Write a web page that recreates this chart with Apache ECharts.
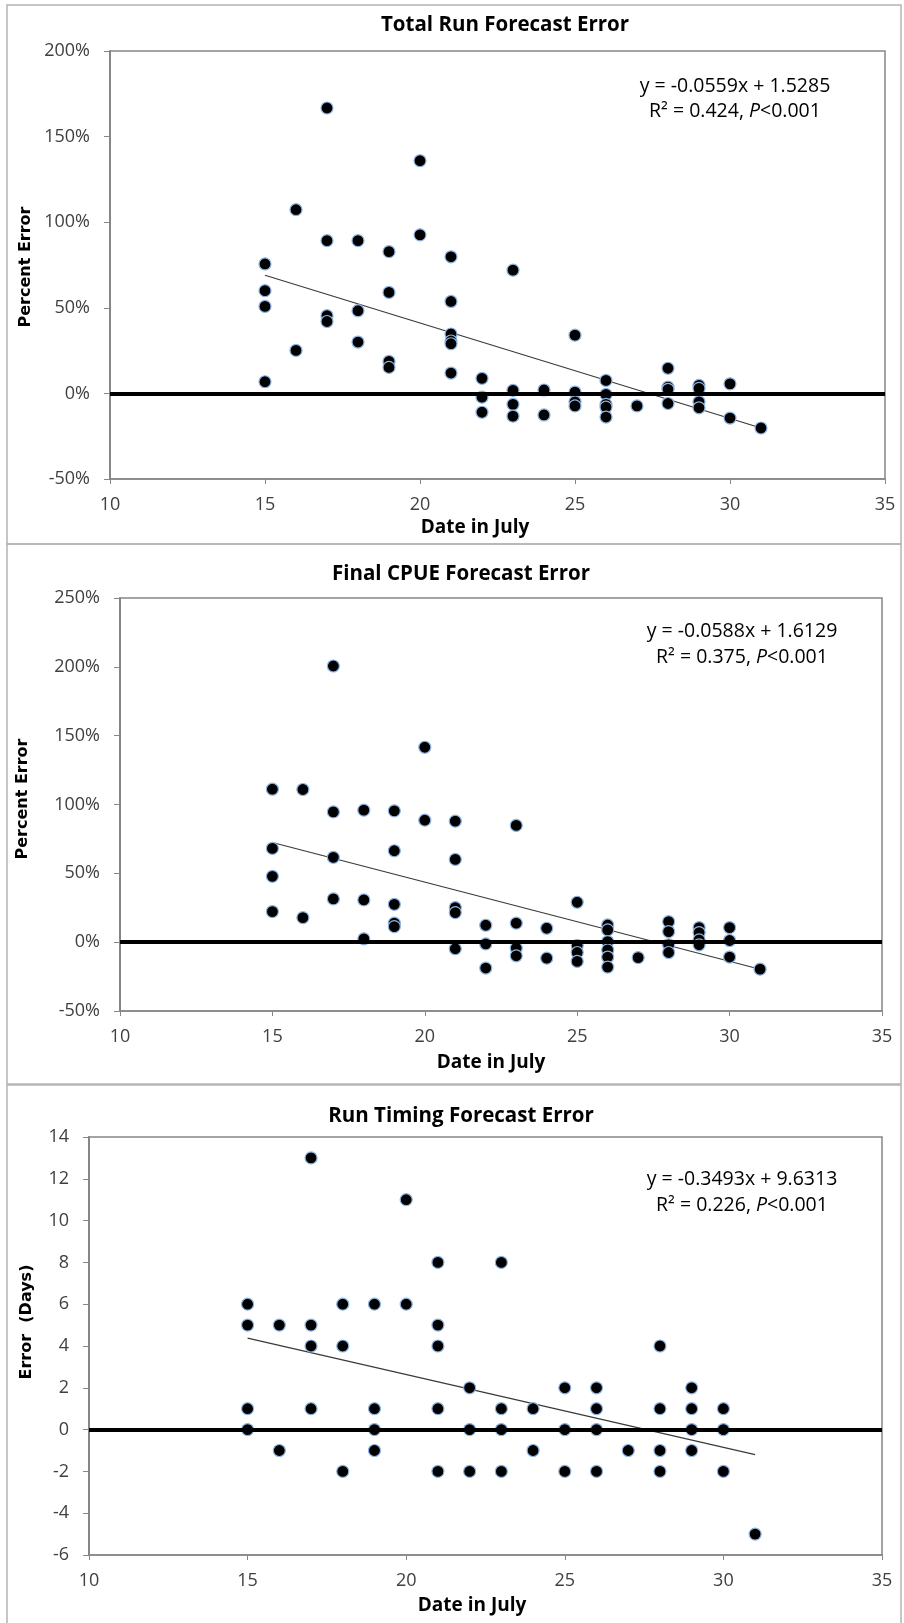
<!DOCTYPE html>
<html>
<head>
<meta charset="utf-8">
<script src="https://cdn.jsdelivr.net/npm/echarts@6/dist/echarts.min.js"></script>
<style>
html,body{margin:0;padding:0;background:#fff;}
#c{width:904px;height:1623px;}
</style>
</head>
<body>
<div id="c"></div>
<script>
// ---- Data ----
var xTicks = [10, 15, 20, 25, 30, 35];

// Panel 1: Total Run Forecast Error (percent)
var totalRunDays = [15,15,15,15, 16,16, 17,17,17,17, 18,18,18, 19,19,19,19, 20,20,
  21,21,21,21,21,21, 22,22,22, 23,23,23,23, 24,24, 25,25,25,25, 26,26,26,26,26, 27,
  28,28,28,28, 29,29,29,29, 30,30, 31];
var totalRunError = [75.6,60,50.8,6.8, 107.3,25.1, 166.7,89.2,45.4,42, 89.2,48.3,30, 82.8,59,18.7,15.2, 135.9,92.6,
  79.8,53.7,34.7,30.6,29,11.9, 8.8,-2.2,-11, 72,1.8,-6.4,-13.3, 2,-12.6, 34,0.8,-4.9,-7.3, 7.6,-0.6,-6.4,-8,-13.8, -7.3,
  14.7,3.7,2.4,-5.9, 4.7,2.9,-4.9,-8.4, 5.6,-14.4, -20.2];
var totalRunTrendX = [15, 31];
var totalRunTrendY = [69, -20.2];

// Panel 2: Final CPUE Forecast Error (percent)
var cpueDays = [15,15,15,15, 16,16, 17,17,17,17, 18,18,18, 19,19,19,19,19, 20,20,
  21,21,21,21,21, 22,22,22, 23,23,23,23, 24,24, 25,25,25,25, 26,26,26,26,26,26, 27,
  28,28,28,28, 29,29,29,29, 30,30,30, 31];
var cpueError = [111.1,68.1,47.8,22.2, 110.9,17.8, 200.6,94.6,61.6,31.4, 95.9,30.7,2.4, 95.4,66.4,27.5,13.8,11.3, 141.6,88.6,
  87.9,60.1,25.1,21.5,-4.8, 12.3,-1.3,-18.8, 84.8,13.8,-4.3,-9.9, 10.1,-11.6, 29,-2.5,-7.5,-14, 12.5,8.9,0.4,-5.6,-10.8,-18.1, -11.2,
  14.9,7.7,-1.9,-7.5, 10.6,7,1.7,-1.9, 10.6,1.2,-10.8, -19.6];
var cpueTrendX = [15, 31];
var cpueTrendY = [72.4, -19.7];

// Panel 3: Run Timing Forecast Error (days)
var timingDays = [15,15,15,15, 16,16, 17,17,17,17, 18,18,18, 19,19,19,19, 20,20,
  21,21,21,21,21, 22,22,22, 23,23,23,23, 24,24, 25,25,25, 26,26,26,26, 27,
  28,28,28,28, 29,29,29,29, 30,30,30, 31];
var timingError = [6,5,1,0, 5,-1, 13,5,4,1, 6,4,-2, 6,1,0,-1, 11,6,
  8,5,4,1,-2, 2,0,-2, 8,1,0,-2, 1,-1, 2,0,-2, 2,1,0,-2, -1,
  4,1,-1,-2, 2,1,0,-1, 1,0,-2, -5];
var timingTrendX = [15, 31];
var timingTrendY = [4.38, -1.2];

var titles = ['Total Run Forecast Error', 'Final CPUE Forecast Error', 'Run Timing Forecast Error'];
var yNames = ['Percent Error', 'Percent Error', 'Error  (Days)'];
var xName = 'Date in July';
var equations = ['y = -0.0559x + 1.5285', 'y = -0.0588x + 1.6129', 'y = -0.3493x + 9.6313'];
var stats = ['R\u00B2 = 0.424, {i|P}<0.001', 'R\u00B2 = 0.375, {i|P}<0.001', 'R\u00B2 = 0.226, {i|P}<0.001'];

// ---- Rendering ----
function zip(xs, ys){ var out=[]; for(var i=0;i<xs.length;i++) out.push([xs[i], ys[i]]); return out; }

var FONT = '"Open Sans", "Liberation Sans", sans-serif';
var grids = [
  {left:110, top:51, width:775, height:428},
  {left:120, top:598, width:762, height:413},
  {left:89, top:1137, width:793, height:418}
];
var yRanges = [
  {min:-50, max:200, interval:50, pct:true},
  {min:-50, max:250, interval:50, pct:true},
  {min:-6, max:14, interval:2, pct:false}
];
var scatterData = [zip(totalRunDays,totalRunError), zip(cpueDays,cpueError), zip(timingDays,timingError)];
var trendData = [zip(totalRunTrendX,totalRunTrendY), zip(cpueTrendX,cpueTrendY), zip(timingTrendX,timingTrendY)];

var titlePos = [{x:505,y:25},{x:461,y:574},{x:461,y:1116}];
var yNamePos = [{x:26,y:267},{x:23,y:799},{x:27,y:1322}];
var xNamePos = [{x:475,y:528},{x:491,y:1063},{x:472,y:1606}];
var eqPos = [{x:735,y1:86,y2:111},{x:742,y1:631,y2:657},{x:742,y1:1179,y2:1205}];
var panels = [{x:7,y:5,w:894,h:539},{x:7,y:544,w:894,h:540},{x:7,y:1085,w:894,h:545}];

var option = {
  animation:false,
  backgroundColor:'#fff',
  grid:[], xAxis:[], yAxis:[], series:[], graphic:[]
};

for (var k=0;k<3;k++){
  var g = grids[k];
  option.grid.push({left:g.left, top:g.top, width:g.width, height:g.height, show:true,
    borderColor:'#868686', borderWidth:1.5, backgroundColor:'#fff'});
  option.xAxis.push({gridIndex:k, type:'value', min:xTicks[0], max:xTicks[xTicks.length-1], interval:5,
    axisLine:{show:true, onZero:false, lineStyle:{color:'#868686', width:1.5}},
    axisTick:{show:true, inside:false, length:5, lineStyle:{color:'#868686'}},
    axisLabel:{color:'#404040', fontFamily:FONT, fontSize:18, margin:17},
    splitLine:{show:false}});
  var yr = yRanges[k];
  option.yAxis.push({gridIndex:k, type:'value', min:yr.min, max:yr.max, interval:yr.interval,
    axisLine:{show:true, onZero:false, lineStyle:{color:'#868686', width:2}},
    axisTick:{show:true, inside:false, length:6, lineStyle:{color:'#868686'}},
    axisLabel:{color:'#404040', fontFamily:FONT, fontSize:18, margin:20,
      formatter: yr.pct ? function(v){return v+'%';} : function(v){return String(v);}},
    splitLine:{show:false}});
  option.series.push({type:'line', xAxisIndex:k, yAxisIndex:k, data:trendData[k], symbol:'none',
    lineStyle:{color:'#3a3a3a', width:1.2}, z:3, silent:true});
  option.series.push({type:'scatter', xAxisIndex:k, yAxisIndex:k, data:scatterData[k],
    symbol:'circle', symbolSize:12,
    itemStyle:{color:'#000', borderColor:'#8db3e2', borderWidth:1.2, opacity:1},
    z:4,
    markLine:{silent:true, symbol:['none','none'], label:{show:false},
      lineStyle:{color:'#000', width:4, type:'solid'}, data:[{yAxis:0}]}
  });

  option.graphic.push({type:'rect', z:-10, shape:{x:panels[k].x, y:panels[k].y, width:panels[k].w, height:panels[k].h},
    style:{fill:'none', stroke:'#b4b4b4', lineWidth:1.5}});
  option.graphic.push({type:'text', x:titlePos[k].x, y:titlePos[k].y,
    style:{text:titles[k], fill:'#000', font:'bold 20.5px '+FONT, align:'center', verticalAlign:'middle'}});
  option.graphic.push({type:'text', x:yNamePos[k].x, y:yNamePos[k].y, rotation:Math.PI/2,
    style:{text:yNames[k], fill:'#000', font:'bold 16px "DejaVu Sans", sans-serif', align:'center', verticalAlign:'middle'}});
  option.graphic.push({type:'text', x:xNamePos[k].x, y:xNamePos[k].y,
    style:{text:xName, fill:'#000', font:'bold 19px '+FONT, align:'center', verticalAlign:'middle'}});
  option.graphic.push({type:'text', x:eqPos[k].x, y:eqPos[k].y1,
    style:{text:equations[k], fill:'#000', font:'19.5px '+FONT, align:'center', verticalAlign:'middle'}});
  option.graphic.push({type:'text', x:eqPos[k].x, y:eqPos[k].y2,
    style:{text:stats[k], fill:'#000', font:'19.5px '+FONT, align:'center', verticalAlign:'middle',
      rich:{i:{fontStyle:'italic', fontFamily:FONT, fontSize:19.5, fill:'#000'}}}});
}

var chart = echarts.init(document.getElementById('c'), null, {renderer:'canvas'});
chart.setOption(option);
</script>
</body>
</html>
